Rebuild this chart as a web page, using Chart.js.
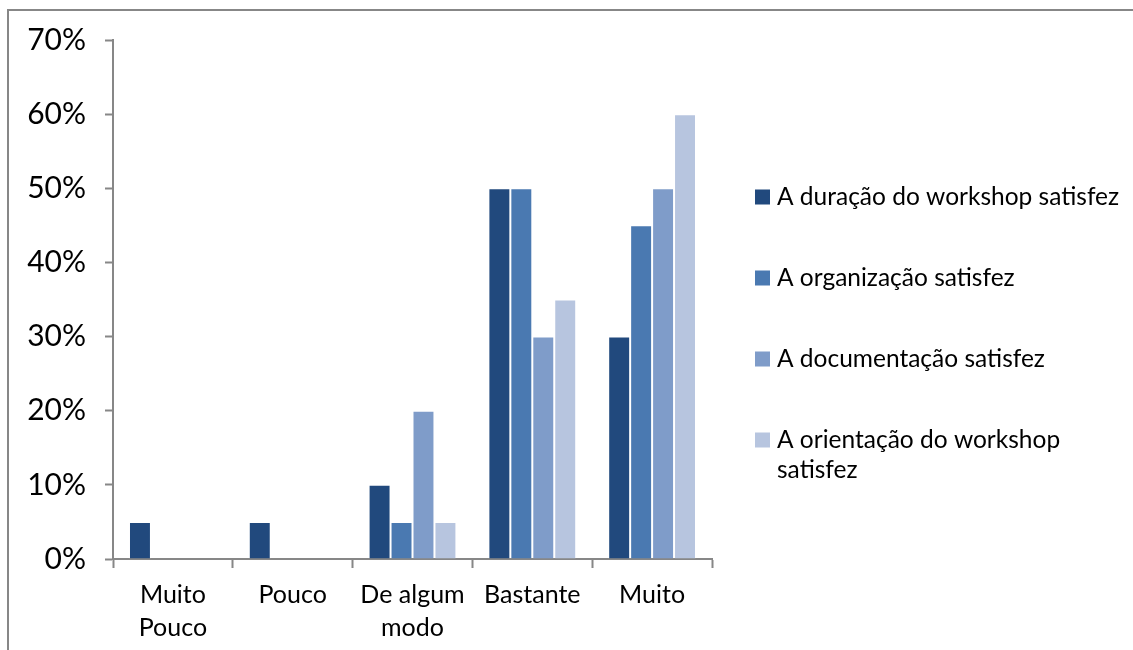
<!DOCTYPE html>
<html>
<head>
<meta charset="utf-8">
<title>Satisfação com o workshop</title>
<script src="https://cdn.jsdelivr.net/npm/chart.js@4.4.1/dist/chart.umd.min.js"></script>
<style>
  html, body { margin: 0; padding: 0; background: #ffffff; overflow: hidden; }
  #wrap { position: relative; width: 1133px; height: 650px; }
  #frame { position: absolute; left: 7px; top: 9px; width: 1300px; height: 800px;
           border: 2px solid #878787; box-sizing: border-box; }
  #c { position: absolute; left: 0; top: 0; }
</style>
</head>
<body>
<div id="wrap">
  <div id="frame"></div>
  <canvas id="c" width="1133" height="650"></canvas>
</div>
<script>
// Answer categories (multi-line where the label wraps)
const categories = [['Muito', 'Pouco'], 'Pouco', ['De algum', 'modo'], 'Bastante', 'Muito'];

// Statement for each series
const seriesNames = [
  'A duração do workshop satisfez',
  'A organização satisfez',
  'A documentação satisfez',
  'A orientação do workshop satisfez'
];

// Share of answers (%) per category
const duracao      = [5, 5, 10, 50, 30];
const organizacao  = [0, 0, 5, 50, 45];
const documentacao = [0, 0, 20, 30, 50];
const orientacao   = [0, 0, 5, 35, 60];

// Value axis range
const yMin = 0;
const yMax = 70;
const yStep = 10;

const seriesColors = ['#21497d', '#4a79b1', '#7f9cc9', '#b7c5df'];
const FONT = 'Lato, "Open Sans", sans-serif';
const AXIS_GREY = '#878787';

// Right-hand legend, drawn on the canvas with word wrapping
const sideLegend = {
  id: 'sideLegend',
  afterDraw(chart) {
    const ctx = chart.ctx;
    const x0 = 755, box = 15, textX = 777, maxW = 350;
    const firstY = 197, rowStep = 81, lineH = 30;
    ctx.save();
    ctx.font = '24.5px ' + FONT;
    ctx.textBaseline = 'middle';
    ctx.textAlign = 'left';
    chart.data.datasets.forEach((ds, i) => {
      const cy = firstY + i * rowStep;
      ctx.fillStyle = ds.backgroundColor;
      ctx.fillRect(x0, cy - box / 2, box, box);
      // wrap words
      const words = ds.label.split(' ');
      const lines = [];
      let cur = '';
      words.forEach(w => {
        const t = cur ? cur + ' ' + w : w;
        if (ctx.measureText(t).width > maxW && cur) { lines.push(cur); cur = w; }
        else cur = t;
      });
      lines.push(cur);
      ctx.fillStyle = '#000000';
      lines.forEach((ln, k) => ctx.fillText(ln, textX, cy + k * lineH));
    });
    ctx.restore();
  }
};

const datasets = [duracao, organizacao, documentacao, orientacao].map((vals, i) => ({
  label: seriesNames[i],
  data: vals,
  backgroundColor: seriesColors[i],
  borderColor: 'rgba(255,255,255,0.25)',
  borderWidth: 1,
  borderSkipped: 'bottom',
  barPercentage: 1.0,
  categoryPercentage: 0.733
}));

new Chart(document.getElementById('c'), {
  type: 'bar',
  data: { labels: categories, datasets },
  options: {
    responsive: false,
    animation: false,
    devicePixelRatio: 1,
    layout: { padding: { top: 40, right: 421, bottom: 0, left: 0 } },
    plugins: {
      legend: { display: false },
      tooltip: { enabled: false }
    },
    scales: {
      x: {
        grid: {
          offset: true,
          drawOnChartArea: false,
          drawTicks: true,
          tickLength: 9,
          tickColor: AXIS_GREY,
          tickWidth: 2
        },
        border: { color: AXIS_GREY, width: 2 },
        ticks: {
          color: '#000000',
          font: { family: FONT, size: 25, lineHeight: 1.32 },
          padding: 10,
          maxRotation: 0,
          autoSkip: false
        },
        afterFit(scale) { scale.height = 91; }
      },
      y: {
        min: yMin,
        max: yMax,
        grid: {
          drawOnChartArea: false,
          drawTicks: true,
          tickLength: 8,
          tickColor: AXIS_GREY,
          tickWidth: 2
        },
        border: { color: AXIS_GREY, width: 2 },
        ticks: {
          stepSize: yStep,
          color: '#000000',
          font: { family: FONT, size: 30 },
          padding: 19,
          callback: v => v + '%'
        },
        afterFit(scale) { scale.width = 113; }
      }
    }
  },
  plugins: [sideLegend]
});
</script>
</body>
</html>
